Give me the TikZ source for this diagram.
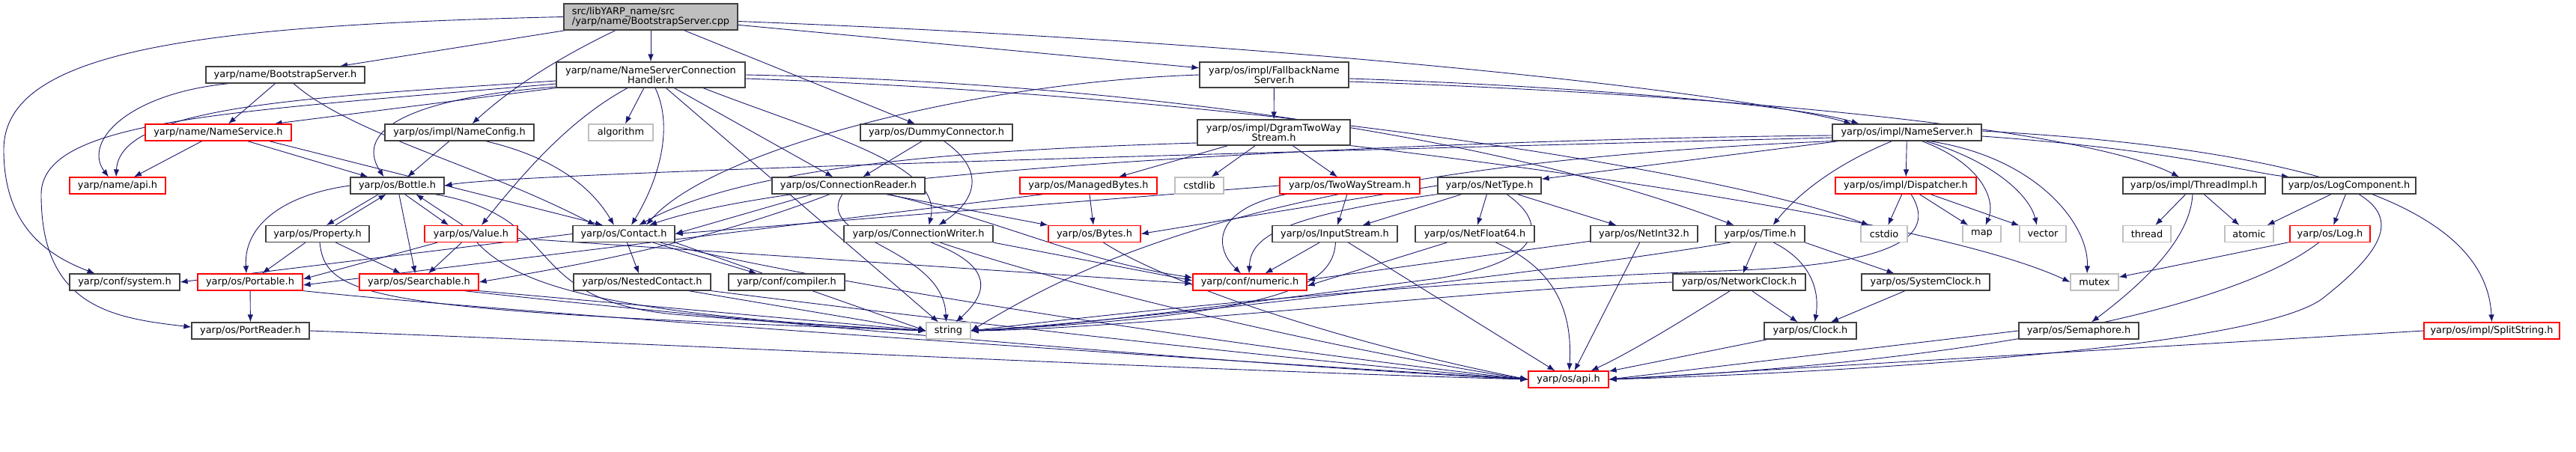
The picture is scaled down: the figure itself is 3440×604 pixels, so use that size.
\documentclass[tikz,border=0pt]{standalone}
\usepackage{fontspec}
\setmainfont{DejaVu Sans}
\usepackage{xcolor}
\usepackage{tikz}
\usetikzlibrary{arrows.meta,backgrounds}

\definecolor{edgeblue}{HTML}{191970}
\definecolor{sysgray}{HTML}{BFBFBF}
\definecolor{boxgray}{HTML}{404040}

\begin{document}
\begin{tikzpicture}[
    x=1pt,
    y=-1pt,
    font=\fontsize{12.9}{13}\selectfont,
    header/.style={
        rectangle,
        draw=boxgray,
        fill=white,
        line width=1.2pt,
        inner sep=0pt,
        minimum height=22pt
    },
    redheader/.style={header, draw=red},
    stdheader/.style={header, draw=sysgray},
    twoline/.style={header, minimum height=34pt, align=center},
    arrow/.style={-{Latex[length=10pt,width=7.5pt]}, edgeblue, line width=0.9pt}
]
    \path[use as bounding box] (0,0) rectangle (3440,604);

    \node[header, fill=sysgray, minimum width=232pt, minimum height=35pt, align=left] (main) at (869,22.5) {src/libYARP\_name/src\\/yarp/name/BootstrapServer.cpp};

    \node[header, minimum width=212pt] (bss) at (381,100) {yarp/name/BootstrapServer.h};
    \node[twoline, minimum width=252pt] (nsch) at (869,100) {yarp/name/NameServerConnection\\Handler.h};
    \node[twoline, minimum width=199pt] (fbns) at (1701.5,100) {yarp/os/impl/FallbackName\\Server.h};

    \node[redheader, minimum width=195pt] (nsvc) at (291.5,177) {yarp/name/NameService.h};
    \node[header, minimum width=199pt] (ncfg) at (613.5,177) {yarp/os/impl/NameConfig.h};
    \node[stdheader, minimum width=86pt] (algo) at (829,177) {algorithm};
    \node[header, minimum width=203pt] (dummy) at (1250.5,177) {yarp/os/DummyConnector.h};
    \node[twoline, minimum width=204pt] (dgram) at (1701,177) {yarp/os/impl/DgramTwoWay\\Stream.h};
    \node[header, minimum width=199pt] (nsrv) at (2546.5,177) {yarp/os/impl/NameServer.h};

    \node[redheader, minimum width=128pt] (napi) at (157,248) {yarp/name/api.h};
    \node[header, minimum width=125pt] (bottle) at (530.5,248) {yarp/os/Bottle.h};
    \node[header, minimum width=204pt] (creader) at (1133,248) {yarp/os/ConnectionReader.h};
    \node[redheader, minimum width=183pt] (mbytes) at (1453.5,248) {yarp/os/ManagedBytes.h};
    \node[stdheader, minimum width=65pt] (cstdlib) at (1601.5,248) {cstdlib};
    \node[redheader, minimum width=187pt] (tws) at (1802.5,248) {yarp/os/TwoWayStream.h};
    \node[header, minimum width=138pt] (nettype) at (1989,248) {yarp/os/NetType.h};
    \node[redheader, minimum width=188pt] (disp) at (2545,248) {yarp/os/impl/Dispatcher.h};
    \node[header, minimum width=190pt] (thimpl) at (2930,248) {yarp/os/impl/ThreadImpl.h};
    \node[header, minimum width=178pt] (logc) at (3137,248) {yarp/os/LogComponent.h};

    \node[header, minimum width=138pt] (property) at (424,312.5) {yarp/os/Property.h};
    \node[redheader, minimum width=124pt] (value) at (629,312.5) {yarp/os/Value.h};
    \node[header, minimum width=136pt] (contact) at (833,312.5) {yarp/os/Contact.h};
    \node[header, minimum width=199pt] (cwriter) at (1226.5,312.5) {yarp/os/ConnectionWriter.h};
    \node[redheader, minimum width=123pt] (bytes) at (1461.5,312.5) {yarp/os/Bytes.h};
    \node[header, minimum width=167pt] (istream) at (1782.5,312.5) {yarp/os/InputStream.h};
    \node[header, minimum width=159pt] (netf64) at (1969.5,312.5) {yarp/os/NetFloat64.h};
    \node[header, minimum width=143pt] (neti32) at (2195.5,312.5) {yarp/os/NetInt32.h};
    \node[header, minimum width=119pt] (time) at (2350.5,312.5) {yarp/os/Time.h};
    \node[stdheader, minimum width=62pt] (cstdio) at (2516,312.5) {cstdio};
    \node[stdheader, minimum width=51pt] (map) at (2646.5,312.5) {map};
    \node[stdheader, minimum width=62pt] (vector) at (2728,312.5) {vector};
    \node[stdheader, minimum width=64pt] (thread) at (2867,312.5) {thread};
    \node[stdheader, minimum width=65pt] (atomic) at (3003.5,312.5) {atomic};
    \node[redheader, minimum width=107pt] (logh) at (3111.5,312.5) {yarp/os/Log.h};

    \node[header, minimum width=147pt] (sysh) at (166.5,377) {yarp/conf/system.h};
    \node[redheader, minimum width=140pt] (portable) at (334,377) {yarp/os/Portable.h};
    \node[redheader, minimum width=159pt] (searchable) at (559.5,377) {yarp/os/Searchable.h};
    \node[header, minimum width=183pt] (nested) at (857.5,377) {yarp/os/NestedContact.h};
    \node[header, minimum width=155pt] (compiler) at (1050.5,377) {yarp/conf/compiler.h};
    \node[redheader, minimum width=152pt] (numeric) at (1669,377) {yarp/conf/numeric.h};
    \node[header, minimum width=177pt] (netclock) at (2322.5,377) {yarp/os/NetworkClock.h};
    \node[header, minimum width=171pt] (sysclock) at (2571.5,377) {yarp/os/SystemClock.h};
    \node[stdheader, minimum width=64pt] (mutex) at (2797,377) {mutex};

    \node[header, minimum width=157pt] (portrdr) at (334.5,442) {yarp/os/PortReader.h};
    \node[stdheader, minimum width=59pt] (string) at (1266.5,442) {string};
    \node[header, minimum width=123pt] (clock) at (2417.5,442) {yarp/os/Clock.h};
    \node[header, minimum width=160pt] (sema) at (2776,442) {yarp/os/Semaphore.h};
    \node[redheader, minimum width=181pt] (split) at (3327.5,442) {yarp/os/impl/SplitString.h};

    \node[redheader, minimum width=107pt] (osapi) at (2094.5,507) {yarp/os/api.h};

    \begin{pgfonlayer}{background}
    \draw[arrow] (main.west) .. controls (250,34) and (5,70) .. (5,200) .. controls (5,300) and (60,340) .. ([xshift=-40pt]sysh.north);
    \draw[arrow] (main) -- (bss);
    \draw[arrow] ([xshift=-47pt]main.south) .. controls (740,80) and (680,120) .. ([xshift=17pt]ncfg.north);
    \draw[arrow] (main) -- (nsch);
    \draw[arrow] (main) -- (dummy);
    \draw[arrow] (main) -- (fbns);
    \draw[arrow] ([yshift=-6pt]main.east) .. controls (1800,60) and (2350,130) .. ([xshift=-74pt]nsrv.north);

    \draw[arrow] ([xshift=-75pt]bss.south) .. controls (170,125) and (110,190) .. ([xshift=-12pt]napi.north);
    \draw[arrow] (bss) -- (nsvc);
    \draw[arrow] ([xshift=11pt]bss.south) .. controls (470,180) and (640,220) .. ([xshift=-38pt]contact.north);

    \draw[arrow] (nsvc) -- (napi);
    \draw[arrow] (nsvc) -- (bottle);
    \draw[arrow] ([xshift=68pt]nsvc.south) -- ([xshift=-28pt]contact.north);

    \draw[arrow] ([yshift=-8pt]nsch.west) .. controls (420,130) and (160,140) .. ([xshift=-2pt]napi.north);
    \draw[arrow] ([yshift=-12pt]nsch.west) .. controls (300,150) and (55,160) .. (55,260) .. controls (55,410) and (150,425) .. ([yshift=5pt]portrdr.west);
    \draw[arrow] (nsch.south west) -- ([xshift=75pt]nsvc.north);
    \draw[arrow] ([yshift=-16pt]nsch.west) .. controls (560,130) and (470,170) .. ([xshift=-18pt]bottle.north);
    \draw[arrow] ([xshift=-31pt]nsch.south) .. controls (760,160) and (700,230) .. ([xshift=14pt]value.north);
    \draw[arrow] (nsch) -- (algo);
    \draw[arrow] ([xshift=6pt]nsch.south) .. controls (900,170) and (880,240) .. ([xshift=10pt]contact.north);
    \draw[arrow] (nsch) -- (creader);
    \draw[arrow] ([xshift=70pt]nsch.south) .. controls (1100,180) and (1260,220) .. ([xshift=14pt]cwriter.north);
    \draw[arrow] (nsch) -- (string);
    \draw[arrow] (nsch.east) .. controls (1500,110) and (2000,180) .. ([xshift=-35pt]time.north);
    \draw[arrow] ([yshift=-5pt]nsch.east) .. controls (1700,130) and (2300,230) .. ([xshift=-20pt]cstdio.north);

    \draw[arrow] (ncfg) -- (bottle);
    \draw[arrow] ([xshift=35pt]ncfg.south) .. controls (740,210) and (790,250) .. ([xshift=-13pt]contact.north);

    \draw[arrow] (dummy) -- (creader);
    \draw[arrow] ([xshift=10pt]dummy.south) .. controls (1320,230) and (1300,270) .. ([xshift=27pt]cwriter.north);

    \draw[arrow] (fbns) -- (dgram);
    \draw[arrow] (fbns.west) .. controls (1300,110) and (950,200) .. ([xshift=30pt]contact.north);
    \draw[arrow] ([yshift=-5pt]fbns.east) .. controls (2100,115) and (2400,140) .. ([xshift=-64pt]nsrv.north);
    \draw[arrow] ([yshift=-9pt]fbns.east) .. controls (2400,130) and (2800,180) .. ([xshift=-20pt]thimpl.north);

    \draw[arrow] (dgram) -- (mbytes);
    \draw[arrow] (dgram) -- (cstdlib);
    \draw[arrow] (dgram) -- (tws);
    \draw[arrow] (dgram.south east) .. controls (2100,230) and (2600,300) .. (mutex.west);
    \draw[arrow] ([yshift=-14pt]dgram.west) .. controls (1300,200) and (1000,220) .. ([xshift=20pt]contact.north);

    \draw[arrow] ([yshift=-4pt]nsrv.west) .. controls (2000,185) and (1100,220) .. ([xshift=34pt]contact.north);
    \draw[arrow] ([yshift=-7pt]nsrv.west) .. controls (1800,200) and (700,230) .. (bottle.east);
    \draw[arrow] (nsrv) -- (nettype);
    \draw[arrow] (nsrv) -- (disp);
    \draw[arrow] ([xshift=-20pt]nsrv.south) .. controls (2450,220) and (2400,260) .. ([xshift=17pt]time.north);
    \draw[arrow] (nsrv.south west) .. controls (1700,220) and (1450,350) .. (string.east);
    \draw[arrow] ([xshift=20pt]nsrv.south) .. controls (2650,220) and (2665,270) .. ([xshift=5pt]map.north);
    \draw[arrow] ([xshift=25pt]nsrv.south) .. controls (2660,215) and (2710,260) .. ([xshift=-8pt]vector.north);
    \draw[arrow] ([xshift=30pt]nsrv.south) .. controls (2720,210) and (2790,300) .. ([xshift=-10pt]mutex.north);
    \draw[arrow] ([yshift=-5pt]nsrv.east) .. controls (2900,200) and (3000,230) .. ([xshift=-80pt]logc.north);
    \draw[arrow] ([yshift=2pt]nsrv.east) .. controls (3100,200) and (3320,280) .. (split.north);

    \draw[arrow] (disp) -- (cstdio);
    \draw[arrow] (disp) -- (map);
    \draw[arrow] (disp) -- (vector);
    \draw[arrow] ([xshift=7pt]disp.south) .. controls (2590,320) and (2520,355) .. (2300,362) .. controls (1800,380) and (1400,430) .. (string.east);

    \draw[arrow] (thimpl) -- (thread);
    \draw[arrow] (thimpl) -- (atomic);
    \draw[arrow] ([xshift=-2pt]thimpl.south) .. controls (2925,320) and (2860,380) .. ([xshift=17pt]sema.north);

    \draw[arrow] (logc) -- (atomic);
    \draw[arrow] (logc) -- (logh);
    \draw[arrow] ([xshift=13pt]logc.south) .. controls (3200,290) and (3190,330) .. (3100,400) .. controls (3000,470) and (2400,500) .. (osapi.east);
    \draw[arrow] (logh) -- (mutex);
    \draw[arrow] ([xshift=-15pt]logh.south) .. controls (3000,400) and (2700,480) .. (osapi.east);
    \draw[arrow] (split.west) -- (osapi.east);
    \draw[arrow] (sema.west) -- (osapi.east);

    \draw[arrow] ([xshift=-25pt]bottle.south) -- ([xshift=12pt]property.north);
    \draw[arrow] ([xshift=24pt]property.north) -- ([xshift=-15pt]bottle.south);
    \draw[arrow] ([xshift=10pt]bottle.south) -- ([xshift=-30pt]value.north);
    \draw[arrow] ([xshift=-11pt]value.north) -- ([xshift=25pt]bottle.south);
    \draw[arrow] (bottle.west) .. controls (380,260) and (325,300) .. ([xshift=-5pt]portable.north);
    \draw[arrow] (bottle) -- ([xshift=-5pt]searchable.north);
    \draw[arrow] ([xshift=50pt]bottle.south) .. controls (760,290) and (690,400) .. (900,420) .. controls (1050,432) and (1150,438) .. (string.west);

    \draw[arrow] (property) -- (portable);
    \draw[arrow] (property) -- (searchable);
    \draw[arrow] ([xshift=3pt]property.south) .. controls (435,400) and (500,415) .. (string.west);

    \draw[arrow] (value) -- (searchable);
    \draw[arrow] ([xshift=-45pt]value.south) -- ([yshift=4pt]portable.east);
    \draw[arrow] ([yshift=-6pt]value.east) -- ([yshift=-2pt]numeric.west);
    \draw[arrow] ([xshift=8pt]value.south) .. controls (690,380) and (800,420) .. (string.west);

    \draw[arrow] (contact.west) -- (sysh.east);
    \draw[arrow] (contact) -- (nested);
    \draw[arrow] (contact) -- ([xshift=-40pt]compiler.north);
    \draw[arrow] (contact.south east) -- (string.west);
    \draw[arrow] ([xshift=-20pt]contact.south east) .. controls (1100,380) and (1700,470) .. (osapi.west);

    \draw[arrow] ([xshift=-48pt]creader.south) -- (contact.east);
    \draw[arrow] ([xshift=-25pt]creader.south) .. controls (950,320) and (800,350) .. (searchable.east);
    \draw[arrow] ([xshift=-8pt]creader.south) .. controls (1085,320) and (1260,330) .. ([xshift=-3pt]string.north);
    \draw[arrow] ([xshift=50pt]creader.south) -- (bytes.north west);
    \draw[arrow] ([xshift=54pt]creader.south) .. controls (1350,300) and (1450,350) .. ([yshift=6pt]numeric.west);

    \draw[arrow] ([xshift=17pt]cwriter.south) .. controls (1340,360) and (1310,400) .. ([xshift=10pt]string.north);
    \draw[arrow] (cwriter.south east) -- ([yshift=2pt]numeric.west);
    \draw[arrow] ([xshift=29pt]cwriter.south) .. controls (1450,390) and (1800,470) .. (osapi.west);

    \draw[arrow] ([xshift=-60pt]mbytes.south) -- ([yshift=-4pt]portable.east);
    \draw[arrow] (mbytes) -- (bytes);
    \draw[arrow] ([xshift=12pt]bytes.south) .. controls (1560,380) and (1800,460) .. (osapi.west);

    \draw[arrow] (tws.west) -- (contact.east);
    \draw[arrow] (tws) -- (istream);
    \draw[arrow] ([xshift=-85pt]tws.south) .. controls (1620,280) and (1620,330) .. ([xshift=-12pt]numeric.north);

    \draw[arrow] (nettype) -- (istream);
    \draw[arrow] (nettype) -- (netf64);
    \draw[arrow] (nettype) -- (neti32);
    \draw[arrow] (nettype.south west) .. controls (1700,290) and (1670,320) .. ([xshift=-1pt]numeric.north);
    \draw[arrow] (nettype.west) -- (bytes.east);
    \draw[arrow] ([xshift=23pt]nettype.south) .. controls (2070,300) and (2060,350) .. (1920,372) .. controls (1700,400) and (1400,440) .. (string.east);

    \draw[arrow] (istream) -- (numeric);
    \draw[arrow] ([xshift=1pt]istream.south) .. controls (1780,380) and (1720,420) .. (string.east);
    \draw[arrow] ([xshift=18pt]istream.south) -- ([xshift=-18pt]osapi.north);

    \draw[arrow] (netf64) -- ([yshift=-5pt]numeric.east);
    \draw[arrow] ([xshift=28pt]netf64.south) .. controls (2080,360) and (2100,420) .. ([xshift=1pt]osapi.north);
    \draw[arrow] (neti32) -- ([yshift=3pt]numeric.east);
    \draw[arrow] (neti32) -- ([xshift=8pt]osapi.north);

    \draw[arrow] (time) -- (netclock);
    \draw[arrow] ([xshift=18pt]time.south) .. controls (2420,350) and (2430,390) .. ([xshift=6pt]clock.north);
    \draw[arrow] (time.south east) -- ([xshift=-42pt]sysclock.north);
    \draw[arrow] ([xshift=-40pt]time.south) .. controls (2100,360) and (1500,430) .. (string.east);

    \draw[arrow] (netclock) -- (clock);
    \draw[arrow] ([xshift=-12pt]netclock.south) .. controls (2260,420) and (2180,470) .. ([xshift=30pt]osapi.north);
    \draw[arrow] (netclock.west) .. controls (2000,385) and (1500,440) .. (string.east);
    \draw[arrow] (sysclock) -- (clock);
    \draw[arrow] (clock) -- (osapi);

    \draw[arrow] (portable) -- (portrdr);
    \draw[arrow] (portable.south east) .. controls (700,420) and (1600,480) .. (osapi.west);
    \draw[arrow] (portrdr.east) .. controls (900,460) and (1600,495) .. (osapi.west);
    \draw[arrow] (searchable.south east) -- (string.west);
    \draw[arrow] ([xshift=-20pt]searchable.south east) .. controls (900,420) and (1600,485) .. (osapi.west);
    \draw[arrow] ([xshift=-30pt]nested.south east) -- (string.west);
    \draw[arrow] (nested.south east) .. controls (1200,420) and (1700,480) .. (osapi.west);
    \end{pgfonlayer}
\end{tikzpicture}
\end{document}
